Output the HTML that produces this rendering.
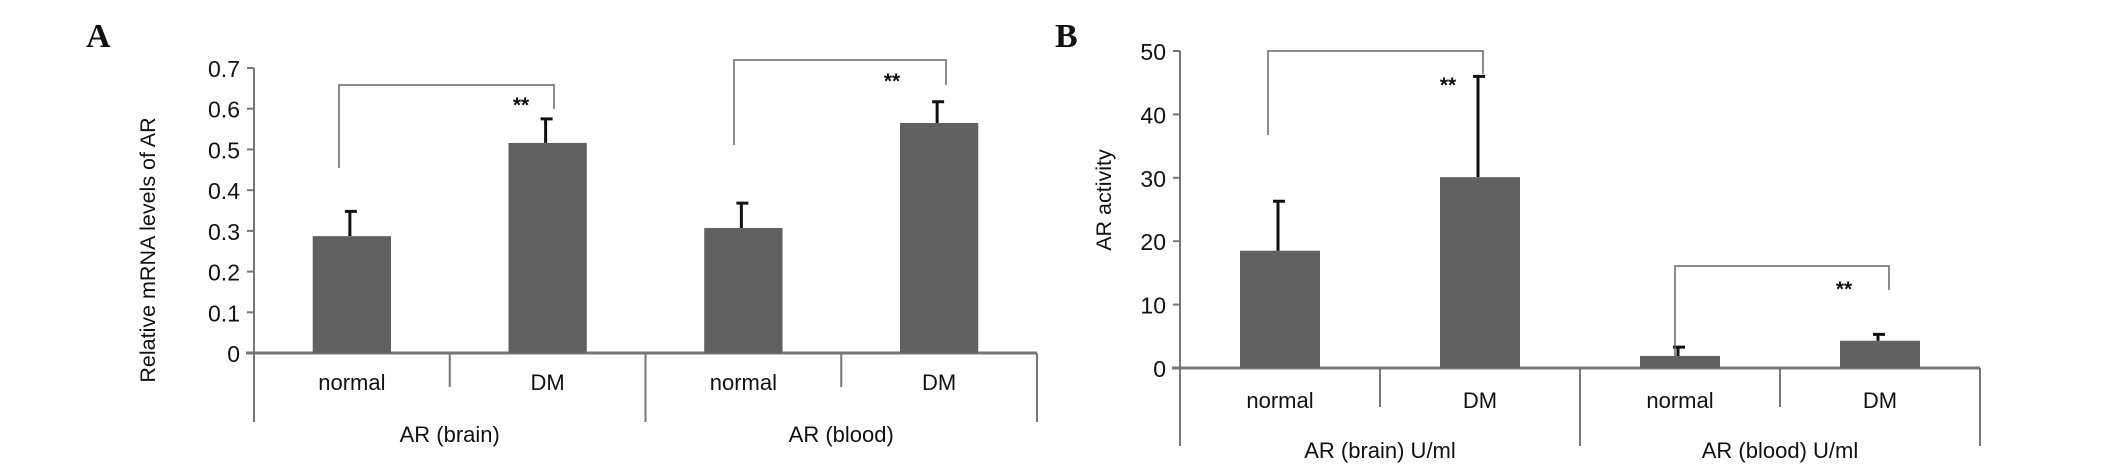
<!DOCTYPE html>
<html><head><meta charset="utf-8"><style>
body{margin:0;background:#fff}
svg{display:block}
text{font-family:"Liberation Sans",Arial,sans-serif;fill:#111}
</style></head><body>
<svg width="2126" height="464" viewBox="0 0 2126 464">
<g id="A"></g>
<g id="B"></g>
</svg>
<script>
const catsA=["normal","DM","normal","DM"];
const valsA=[0.287,0.516,0.307,0.565];
const errA=[0.348,0.575,0.368,0.617];
const ticksA=["0","0.1","0.2","0.3","0.4","0.5","0.6","0.7"];
const groupsA=["AR (brain)","AR (blood)"];
const catsB=["normal","DM","normal","DM"];
const valsB=[18.5,30.1,1.9,4.3];
const errB=[26.3,46,3.3,5.3];
const ticksB=["0","10","20","30","40","50"];
const groupsB=["AR (brain) U/ml","AR (blood) U/ml"];
const NS="http://www.w3.org/2000/svg";
function mk(p,t,a){const e=document.createElementNS(NS,t);for(const k in a)e.setAttribute(k,a[k]);p.appendChild(e);return e;}
function panel(g,cfg){
  const y=v=>cfg.y0-(v-cfg.vmin)/(cfg.vmax-cfg.vmin)*(cfg.y0-cfg.ytop);
  const L=mk(g,"text",{x:cfg.letterX,y:47,"font-size":34,"font-weight":"bold",style:"font-family:'Liberation Serif',serif"});L.textContent=cfg.letter;
  
  
  const ax=mk(g,"line",{x1:cfg.ax,y1:cfg.ytop,x2:cfg.ax,y2:cfg.axBottom,stroke:"#777","stroke-width":2});
  
  
  const xa=mk(g,"line",{x1:cfg.ax-8,y1:cfg.y0,x2:cfg.xEnd,y2:cfg.y0,stroke:"#777","stroke-width":3});
  
  
  cfg.ticks.forEach(t=>{const v=parseFloat(t),yy=y(v);
    mk(g,"line",{x1:cfg.ax-7,y1:yy,x2:cfg.ax,y2:yy,stroke:"#777","stroke-width":2});
    const tx=mk(g,"text",{x:cfg.ax-14,y:yy+9,"text-anchor":"end","font-size":23});tx.textContent=t;
    
    
  });
  const yt=mk(g,"text",{x:0,y:0,"text-anchor":"middle","font-size":21.5,transform:`translate(${cfg.titleX},${cfg.titleY}) rotate(-90)`});yt.textContent=cfg.title;
  
  
  const w=(cfg.xEnd-cfg.ax)/4;
  for(let i=1;i<=4;i++){const xx=cfg.ax+i*w;
    mk(g,"line",{x1:xx,y1:cfg.y0,x2:xx,y2:(i%2?cfg.shortBottom:cfg.axBottom),stroke:"#777","stroke-width":2});}
  cfg.cats.forEach((c,i)=>{
    const cx=cfg.ax+(i+0.5)*w, bw=w*0.4;
    const r=mk(g,"rect",{x:cx-bw/2,y:y(cfg.vals[i]),width:bw,height:cfg.y0-y(cfg.vals[i]),fill:"#606060"});
    
    
    const eb=mk(g,"path",{d:`M${cx-2} ${y(cfg.vals[i])}V${y(cfg.errs[i])}M${cx-7} ${y(cfg.errs[i])}H${cx+5}`,stroke:"#111","stroke-width":3,fill:"none"});
    
    
    const lb=mk(g,"text",{x:cx,y:cfg.catY,"text-anchor":"middle","font-size":22});lb.textContent=c;
    
    
  });
  cfg.groups.forEach((gname,i)=>{
    const gx=cfg.ax+(2*i+1)*w;
    const t=mk(g,"text",{x:gx,y:cfg.grpY,"text-anchor":"middle","font-size":22});t.textContent=gname;
    
    
  });
  cfg.brackets.forEach(b=>{
    const p=mk(g,"path",{d:`M${b[0]} ${b[1]}V${b[2]}H${b[3]}V${b[4]}`,stroke:"#666","stroke-width":1.5,fill:"none"});
    
    
    const s=mk(g,"text",{x:b[5],y:b[6]+9,"text-anchor":"middle","font-size":21,"font-weight":"bold"});s.textContent="**";
    
    
  });
}
panel(document.getElementById("A"),{letter:"A",letterX:86,ax:254,xEnd:1037,y0:353,ytop:68,vmin:0,vmax:0.7,axBottom:422,shortBottom:387,
 ticks:ticksA,cats:catsA,vals:valsA,errs:errA,groups:groupsA,title:"Relative mRNA levels of AR",titleX:155,titleY:250,catY:390,grpY:442,
 brackets:[[339,168,85,554,109,521,103],[734,145,60,946,85,892,79]]});
panel(document.getElementById("B"),{letter:"B",letterX:1055,ax:1180,xEnd:1980,y0:368,ytop:51,vmin:0,vmax:50,axBottom:446,shortBottom:407,
 ticks:ticksB,cats:catsB,vals:valsB,errs:errB,groups:groupsB,title:"AR activity",titleX:1111,titleY:200,catY:408,grpY:458,
 brackets:[[1268,135,51,1483,74,1448,83],[1675,357,266,1889,290,1844,287]]});
</script>
</body></html>
